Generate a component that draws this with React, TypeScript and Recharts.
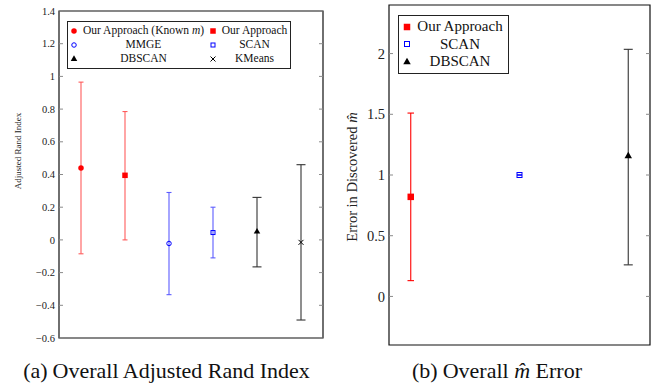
import React from 'react';
import { ScatterChart, Scatter, XAxis, YAxis, ErrorBar, ReferenceArea } from 'recharts';

const FONT = '"Liberation Serif", "DejaVu Serif", serif';

// (a) adjusted rand index, one point per method
const ariMethods = ['Our Approach (Known m)', 'Our Approach', 'MMGE', 'SCAN', 'DBSCAN', 'KMeans'];
const ariMean = [0.44, 0.395, -0.022, 0.045, 0.05, -0.015];
const ariLow = [-0.085, 0.0, -0.335, -0.11, -0.165, -0.49];
const ariHigh = [0.965, 0.785, 0.29, 0.2, 0.26, 0.46];
const ariTicks = [-0.6, -0.4, -0.2, 0, 0.2, 0.4, 0.6, 0.8, 1, 1.2, 1.4];

// (b) error in discovered m-hat
const mMethods = ['Our Approach', 'SCAN', 'DBSCAN'];
const mMean = [0.82, 1.0, 1.155];
const mLow = [0.13, 1.0, 0.26];
const mHigh = [1.51, 1.0, 2.035];
const mTicks = [0, 0.5, 1, 1.5, 2];

type Look = { kind: string; color: string; bar: string; cap: number; size: number };

const ariLooks: Look[] = [
  { kind: 'dot', color: '#ff0000', bar: '#ff5c5c', cap: 5, size: 5.5 },
  { kind: 'square', color: '#ff0000', bar: '#ff5c5c', cap: 5, size: 5.5 },
  { kind: 'ring', color: '#0000ff', bar: '#5c5cff', cap: 5, size: 5.5 },
  { kind: 'box', color: '#0000ff', bar: '#5c5cff', cap: 5, size: 5 },
  { kind: 'triangle', color: '#000000', bar: '#333333', cap: 9, size: 6.5 },
  { kind: 'cross', color: '#000000', bar: '#333333', cap: 9, size: 5 },
];

const mLooks: Look[] = [
  { kind: 'square', color: '#ff0000', bar: '#ff0000', cap: 6.5, size: 6.5 },
  { kind: 'box', color: '#0000ff', bar: '#0000ff', cap: 5, size: 6 },
  { kind: 'triangle', color: '#000000', bar: '#333333', cap: 9, size: 7.5 },
];

const Marker = ({ kind, cx, cy, color, s }: { kind: string; cx: number; cy: number; color: string; s: number }) => {
  const d = s / 2;
  switch (kind) {
    case 'dot':
      return <circle cx={cx} cy={cy} r={d} fill={color} />;
    case 'ring':
      return <circle cx={cx} cy={cy} r={d - 0.5} fill="none" stroke={color} strokeWidth={1} />;
    case 'square':
      return <rect x={cx - d} y={cy - d} width={s} height={s} fill={color} />;
    case 'box':
      return <rect x={cx - d + 0.5} y={cy - d + 0.5} width={s - 1} height={s - 1} fill="none" stroke={color} strokeWidth={1} />;
    case 'triangle': {
      const h = s * 0.87;
      return <polygon points={`${cx},${cy - (h * 2) / 3} ${cx - d},${cy + h / 3} ${cx + d},${cy + h / 3}`} fill={color} />;
    }
    default:
      return <path d={`M${cx - d},${cy - d}L${cx + d},${cy + d}M${cx - d},${cy + d}L${cx + d},${cy - d}`} stroke={color} strokeWidth={1} />;
  }
};

const mathName = (name: string) => {
  const i = name.lastIndexOf(' m)');
  return i < 0 ? name : <>{name.slice(0, i + 1)}<i>m</i>)</>;
};

const fmt = (v: number) => (v < 0 ? '\u2212' + Math.abs(v) : String(v));

type LegendProps = {
  methods: string[];
  looks: Look[];
  left: number;
  top: number;
  cols: string;
  row: number;
  font: number;
  pad: string;
};

const LegendBox = (p: LegendProps) => (
  <div
    style={{
      position: 'absolute',
      left: p.left,
      top: p.top,
      display: 'grid',
      gridTemplateColumns: p.cols,
      gridAutoRows: p.row,
      alignItems: 'center',
      border: '1.2px solid #222',
      background: '#fff',
      padding: p.pad,
      fontFamily: FONT,
      fontSize: p.font,
      lineHeight: 1,
      color: '#111',
      whiteSpace: 'nowrap',
    }}
  >
    {p.methods.map((name, i) => (
      <React.Fragment key={name}>
        <svg width={12} height={12} style={{ justifySelf: 'center' }}>
          <Marker kind={p.looks[i].kind} cx={6} cy={6} color={p.looks[i].color} s={p.looks[i].size} />
        </svg>
        <span style={{ textAlign: 'center' }}>{mathName(name)}</span>
      </React.Fragment>
    ))}
  </div>
);

type PanelProps = {
  width: number;
  height: number;
  plotLeft: number;
  margin: { top: number; right: number; bottom: number };
  methods: string[];
  mean: number[];
  low: number[];
  high: number[];
  ticks: number[];
  yDomain: [number, number];
  xDomain: [number, number];
  looks: Look[];
  tickSize: number;
  yLabel: React.ReactNode;
  yLabelSize: number;
  yLabelPos: [number, number];
};

const Panel = (p: PanelProps) => {
  const plotRight = p.width - p.margin.right;
  const Tick = (t: any) => (
    <g>
      <line x1={p.plotLeft} x2={p.plotLeft + 4} y1={t.y} y2={t.y} stroke="#8a8a8a" />
      <line x1={plotRight - 4} x2={plotRight} y1={t.y} y2={t.y} stroke="#8a8a8a" />
      <text x={p.plotLeft - 4} y={t.y} dy={p.tickSize * 0.35} textAnchor="end" fontSize={p.tickSize} fontFamily={FONT} fill="#222">
        {fmt(t.payload.value)}
      </text>
    </g>
  );
  return (
    <ScatterChart
      width={p.width}
      height={p.height}
      margin={{ top: p.margin.top, right: p.margin.right, bottom: p.margin.bottom, left: 0 }}
    >
      <XAxis type="number" dataKey="x" domain={p.xDomain} hide />
      <YAxis
        type="number"
        dataKey="y"
        width={p.plotLeft}
        domain={p.yDomain}
        ticks={p.ticks}
        allowDataOverflow
        axisLine={false}
        tickLine={false}
        tick={Tick}
        label={() => (
          <text
            x={p.yLabelPos[0]}
            y={p.yLabelPos[1]}
            transform={`rotate(-90 ${p.yLabelPos[0]} ${p.yLabelPos[1]})`}
            textAnchor="middle"
            dominantBaseline="central"
            fontFamily={FONT}
            fontSize={p.yLabelSize}
            fill="#222"
          >
            {p.yLabel}
          </text>
        )}
      />
      <ReferenceArea
        x1={p.xDomain[0]}
        x2={p.xDomain[1]}
        y1={p.yDomain[0]}
        y2={p.yDomain[1]}
        fill="none"
        fillOpacity={0}
        stroke="#111"
        strokeWidth={1.2}
      />
      {p.methods.map((name, i) => {
        const look = p.looks[i];
        const data = [{ x: i + 1, y: p.mean[i], err: [p.mean[i] - p.low[i], p.high[i] - p.mean[i]] }];
        return (
          <Scatter
            key={name}
            name={name}
            data={data}
            isAnimationActive={false}
            shape={(s: any) => <Marker kind={look.kind} cx={s.cx} cy={s.cy} color={look.color} s={look.size} />}
          >
            <ErrorBar dataKey="err" direction="y" width={look.cap / 2} stroke={look.bar} strokeWidth={1.1} isAnimationActive={false} />
          </Scatter>
        );
      })}
    </ScatterChart>
  );
};

export default function App() {
  return (
    <div style={{ position: 'absolute', left: 0, top: 0, width: 656, height: 386, background: '#fff' }}>
      <div style={{ position: 'absolute', left: 0, top: 0 }}>
        <Panel
          width={330}
          height={386}
          plotLeft={59}
          margin={{ top: 11, right: 7, bottom: 48 }}
          methods={ariMethods}
          mean={ariMean}
          low={ariLow}
          high={ariHigh}
          ticks={ariTicks}
          yDomain={[-0.6, 1.4]}
          xDomain={[0.5, 6.5]}
          looks={ariLooks}
          tickSize={10.5}
          yLabel="Adjusted Rand Index"
          yLabelSize={9}
          yLabelPos={[18, 151]}
        />
      </div>
      <div style={{ position: 'absolute', left: 330, top: 0 }}>
        <Panel
          width={326}
          height={386}
          plotLeft={59}
          margin={{ top: 5, right: 6, bottom: 41 }}
          methods={mMethods}
          mean={mMean}
          low={mLow}
          high={mHigh}
          ticks={mTicks}
          yDomain={[-0.4, 2.4]}
          xDomain={[0.8, 3.2]}
          looks={mLooks}
          tickSize={14.5}
          yLabel={<>Error in Discovered <tspan fontStyle="italic">m̂</tspan></>}
          yLabelSize={14.5}
          yLabelPos={[22, 177]}
        />
      </div>
      <LegendBox
        methods={ariMethods}
        looks={ariLooks}
        left={67}
        top={21}
        cols="12px 127px 12px 71px"
        row={14}
        font={11.5}
        pad="2px 0"
      />
      <LegendBox
        methods={mMethods}
        looks={mLooks}
        left={398}
        top={15}
        cols="16px 90px"
        row={17.5}
        font={15}
        pad="2px 3px 2px 0"
      />
      <svg width={656} height={386} style={{ position: 'absolute', left: 0, top: 0, pointerEvents: 'none' }}>
        <text x={166.5} y={378} textAnchor="middle" fontFamily={FONT} fontSize={22} fill="#111">
          (a)<tspan dx={5}>Overall Adjusted Rand Index</tspan>
        </text>
        <text x={497} y={378} textAnchor="middle" fontFamily={FONT} fontSize={22} fill="#111">
          (b)<tspan dx={5}>Overall </tspan>
          <tspan fontStyle="italic">m̂</tspan> Error
        </text>
      </svg>
    </div>
  );
}
